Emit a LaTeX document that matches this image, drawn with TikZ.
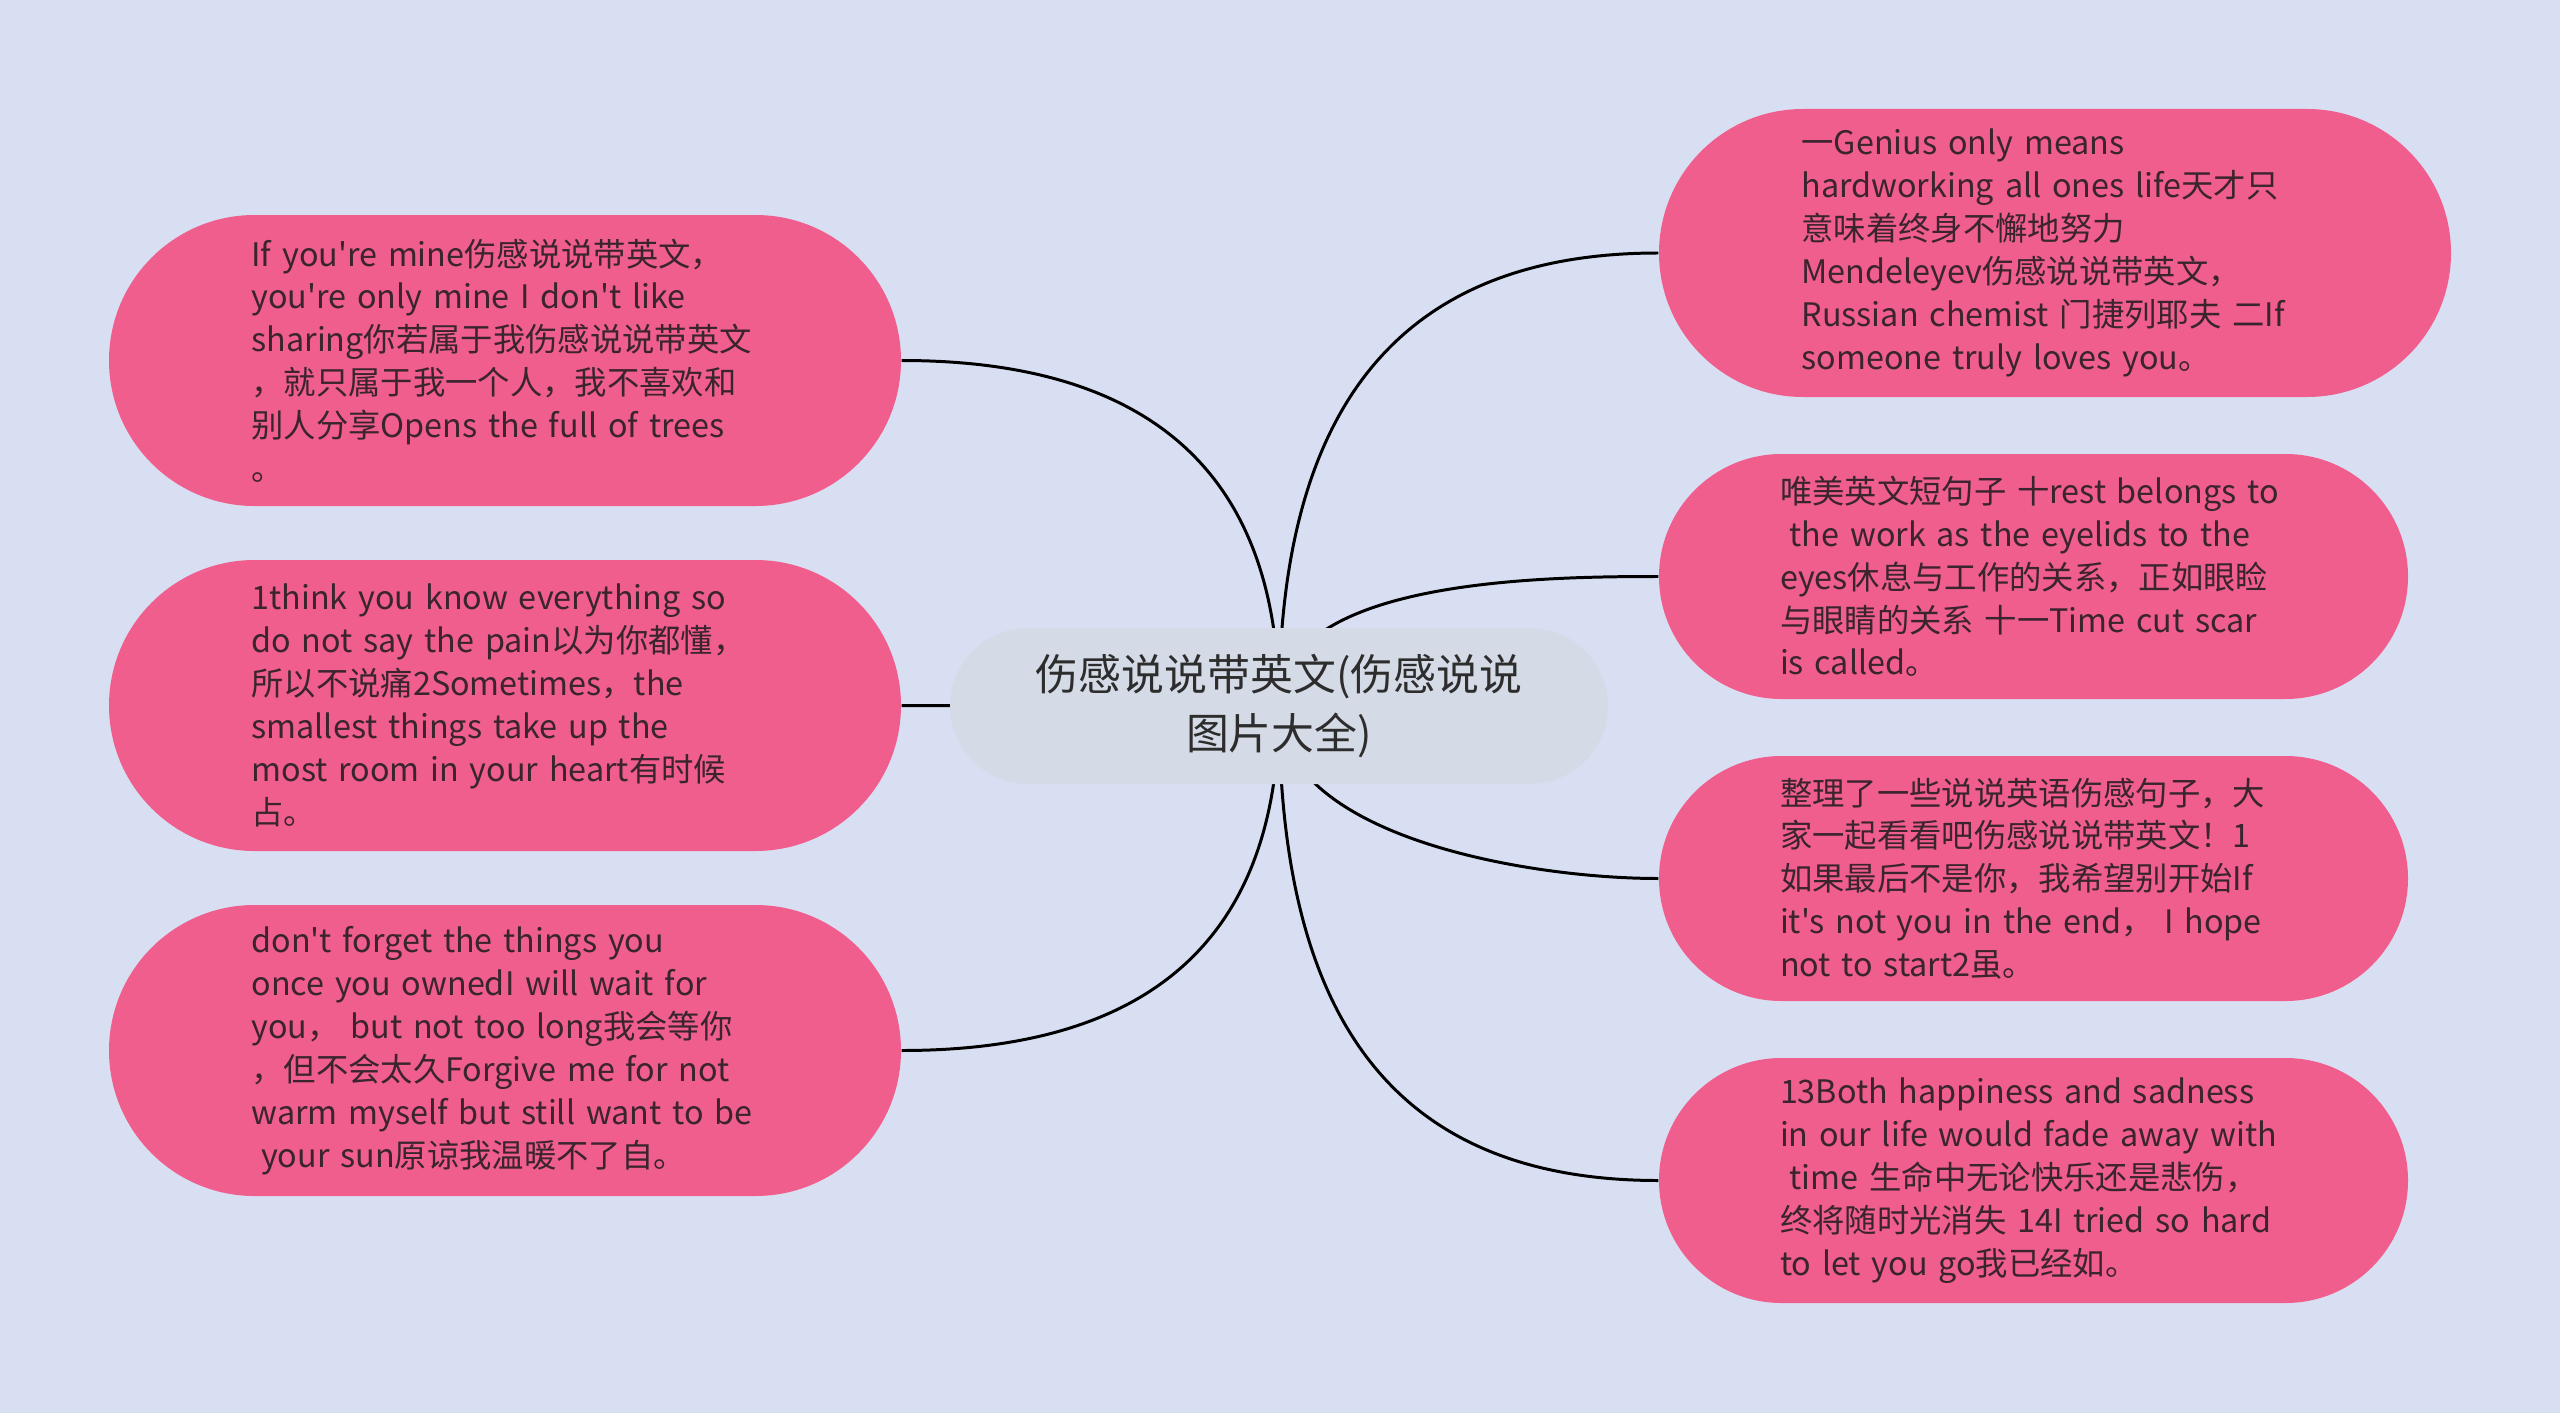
\documentclass[tikz,border=0pt]{standalone}
\usepackage{fontspec}
\setmainfont{Noto Sans CJK SC}[Ligatures=TeXOff]
\usetikzlibrary{positioning}
\definecolor{bgblue}{RGB}{217,223,242}
\definecolor{leafpink}{RGB}{240,94,142}
\definecolor{rootgrey}{RGB}{213,219,230}
\definecolor{leaftext}{RGB}{58,36,46}
\definecolor{roottext}{RGB}{45,45,45}
\pgfdeclarelayer{bg}
\pgfdeclarelayer{links}
\pgfsetlayers{bg,links,main}
\begin{document}
\begin{tikzpicture}[
  leaf/.style={fill=leafpink, text=leaftext, align=left, text width=5.07cm, minimum width=7.92cm,
    minimum height=2.91cm, rounded corners=1.455cm, font=\fontsize{9.2}{12.2}\selectfont},
  leafr/.style={leaf, minimum width=7.49cm, minimum height=2.45cm, rounded corners=1.225cm},
  hub/.style={fill=rootgrey, text=roottext, align=center, minimum width=6.58cm,
    minimum height=1.56cm, rounded corners=0.78cm, font=\fontsize{12.2}{16.7}\selectfont},
  link/.style={line width=0.85pt, black}]
\begin{pgfonlayer}{bg}
\fill[bgblue] (0,0) rectangle (25.6,14.13);
\end{pgfonlayer}
\useasboundingbox (0,0) rectangle (25.6,14.13);

\node[hub] (root) at (12.79,7.07) {伤感说说带英文(伤感说说\\图片大全)};

% left side
\node[leaf] (l1) at (5.05,10.525) {If you're mine伤感说说带英文，\\you're only mine I don't like\\sharing你若属于我伤感说说带英文\\，就只属于我一个人，我不喜欢和\\别人分享Opens the full of trees\\。};
\node[leaf] (l2) at (5.05,7.075) {1think you know everything so\\do not say the pain以为你都懂，\\所以不说痛2Sometimes，the\\smallest things take up the\\most room in your heart有时候\\占。};
\node[leaf] (l3) at (5.05,3.625) {don't forget the things you\\once you ownedI will wait for\\you，~but not too long我会等你\\，但不会太久Forgive me for not\\warm myself but still want to be\\\hspace*{0.3em}your sun原谅我温暖不了自。};

% right side
\node[leaf, minimum height=2.88cm, rounded corners=1.44cm] (r1) at (20.55,11.60) {一Genius only means\\hardworking all ones life天才只\\意味着终身不懈地努力\\Mendeleyev伤感说说带英文，\\Russian chemist 门捷列耶夫 二If\\someone truly loves you。};
\node[leafr] (r2) at (20.335,8.365) {唯美英文短句子 十rest belongs to\\\hspace*{0.3em}the work as the eyelids to the\\eyes休息与工作的关系，正如眼睑\\与眼睛的关系 十一Time cut scar\\is called。};
\node[leafr] (r3) at (20.335,5.345) {整理了一些说说英语伤感句子，大\\家一起看看吧伤感说说带英文！1\\如果最后不是你，我希望别开始If\\it's not you in the end，~I hope\\not to start2虽。};
\node[leafr] (r4) at (20.335,2.325) {13Both happiness and sadness\\in our life would fade away with\\\hspace*{0.3em}time 生命中无论快乐还是悲伤，\\终将随时光消失 14I tried so hard\\to let you go我已经如。};

\begin{pgfonlayer}{links}
\draw[link] (root.center) to[out=90, in=0, looseness=1.2] (l1.east);
\draw[link] (root.center) -- (l2.east);
\draw[link] (root.center) to[out=-90, in=0, looseness=1.2] (l3.east);
\draw[link] (root.center) to[out=90, in=180, looseness=1.2] (r1.west);
\draw[link] (root.center) to[out=90, in=180, looseness=0.8] (r2.west);
\draw[link] (root.center) to[out=-90, in=180, looseness=0.8] (r3.west);
\draw[link] (root.center) to[out=-90, in=180, looseness=1.2] (r4.west);
\end{pgfonlayer}
\end{tikzpicture}
\end{document}
